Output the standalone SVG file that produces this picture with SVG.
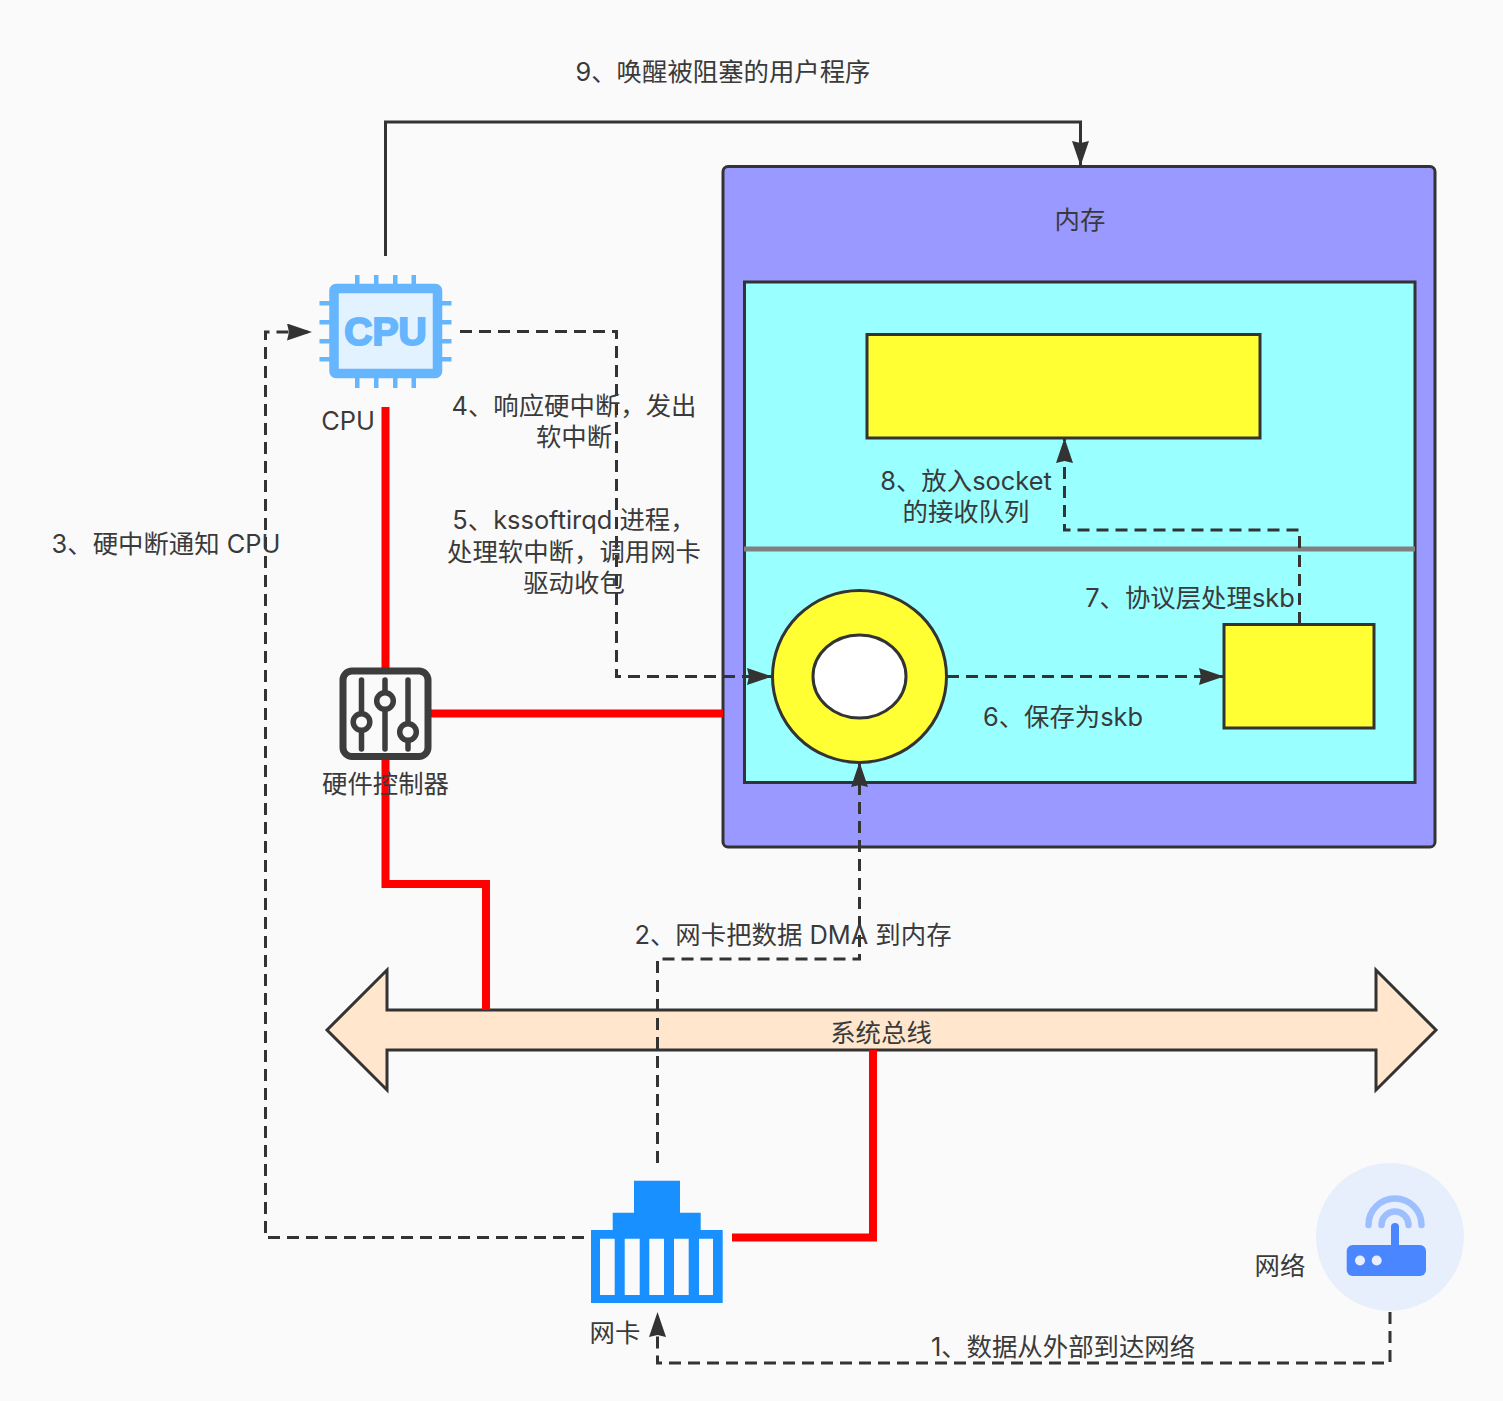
<svg xmlns="http://www.w3.org/2000/svg" width="1503" height="1401" viewBox="0 0 1503 1401">
<style>
text{font-family:"Inter","Noto Sans CJK SC",sans-serif;font-size:25.400px;fill:#3a3a3a;text-anchor:middle}
.box{stroke:#333;stroke-width:3}
.red{fill:none;stroke:#f00;stroke-width:8}
.dash{fill:none;stroke:#333;stroke-width:3;stroke-dasharray:12 7}
.solid{fill:none;stroke:#333;stroke-width:3}
</style>
<defs>
<marker id="arr" markerUnits="userSpaceOnUse" markerWidth="26" markerHeight="17" refX="25" refY="8.500" orient="auto"><path d="M0 0L25 8.500L0 17L2 8.500Z" fill="#333"/></marker>
</defs>
<rect width="1503" height="1401" fill="#fafafa"/>
<g id="memory">
<rect class="box" x="723" y="166.500" width="712" height="680.500" rx="5" fill="#99f"/>
<text x="1080" y="229">内存</text>
</g>
<g id="region">
<rect class="box" x="744.500" y="282" width="670.500" height="500.500" fill="#9ff"/>
<line x1="744" y1="549" x2="1415" y2="549" stroke="#808080" stroke-width="5"/>
</g>
<g id="socket-queue"><rect class="box" x="867" y="334.500" width="393" height="103.500" fill="#ff3"/></g>
<g id="ring-buffer">
<ellipse class="box" cx="859.500" cy="676.500" rx="87" ry="86" fill="#ff3"/>
<ellipse class="box" cx="859.500" cy="676.500" rx="46.500" ry="41.500" fill="#fff"/>
</g>
<g id="skb"><rect class="box" x="1224" y="624.500" width="150" height="103.500" fill="#ff3"/></g>
<g id="bus">
<path class="box" d="M327 1030L387 970V1010H1376V970L1436 1030L1376 1090V1050H387V1090Z" fill="#ffe6cc"/>
<text x="881" y="1042">系统总线</text>
</g>
<g id="connectors">
<path class="red" d="M385.500 407V668"/>
<path class="red" d="M385.500 760V884H486V1010"/>
<path class="red" d="M431 713.500H723"/>
<path class="red" d="M732 1237.500H873V1050"/>
<path class="dash" d="M1390 1312V1363H657.500V1312" marker-end="url(#arr)"/>
<path class="dash" d="M657.500 1163V959H859.500V762" marker-end="url(#arr)"/>
<path class="dash" d="M584 1237.500H265.500V332H312" marker-end="url(#arr)"/>
<path class="dash" d="M460 331.500H616.500V676.500H772" marker-end="url(#arr)"/>
<path class="dash" d="M947 676.500H1224" marker-end="url(#arr)"/>
<path class="dash" d="M1299.500 624V530H1064.500V438" marker-end="url(#arr)"/>
<path class="solid" d="M385.500 256V122H1080.500V166" marker-end="url(#arr)"/>
</g>
<g id="cpu">
<g fill="#66b5ff">
<rect x="355" y="275" width="4.500" height="113"/><rect x="374" y="275" width="4.500" height="113"/><rect x="393" y="275" width="4.500" height="113"/><rect x="411.500" y="275" width="4.500" height="113"/>
<rect x="319.500" y="301" width="132" height="4.500"/><rect x="319.500" y="320" width="132" height="4.500"/><rect x="319.500" y="339" width="132" height="4.500"/><rect x="319.500" y="357" width="132" height="4.500"/>
</g>
<rect x="334" y="288.500" width="103.500" height="85" rx="2" fill="#e3f2ff" stroke="#66b5ff" stroke-width="9.500"/>
<text x="385.500" y="344.500" style="font-family:'Liberation Sans',sans-serif;font-size:39px;font-weight:bold;fill:#66b5ff;stroke:#66b5ff;stroke-width:2">CPU</text>
<text x="348" y="430">CPU</text>
</g>
<g id="controller">
<rect x="343" y="671" width="85" height="85.500" rx="9" fill="#fafafa" stroke="#3d3d3d" stroke-width="7"/>
<g stroke="#3d3d3d" stroke-width="5.500" stroke-linecap="round" fill="#fafafa">
<line x1="361.500" y1="680" x2="361.500" y2="749"/><line x1="385" y1="680" x2="385" y2="749"/><line x1="408" y1="680" x2="408" y2="749"/>
<circle cx="361.500" cy="722" r="8.300"/><circle cx="385" cy="701" r="8.300"/><circle cx="408" cy="732" r="8.300"/>
</g>
<text x="385.500" y="793">硬件控制器</text>
</g>
<g id="nic">
<path fill="#1890ff" fill-rule="evenodd" d="M591 1303V1230H612.700V1212.700H634V1180.700H680V1212.700H700.700V1230H722.700V1303ZM600 1238.700V1295H614.700V1238.700ZM624.700 1238.700V1295H639.700V1238.700ZM649.300 1238.700V1295H664V1238.700ZM674 1238.700V1295H688.700V1238.700ZM699 1238.700V1295H713V1238.700Z"/>
<text x="615" y="1342">网卡</text>
</g>
<g id="network">
<circle cx="1390" cy="1237" r="74" fill="#e8effc"/>
<g fill="none" stroke="#9dbfff" stroke-width="6.500" stroke-linecap="round">
<path d="M1368.500 1225A26.500 26.500 0 0 1 1421.500 1225"/>
<path d="M1381.500 1225A13.500 13.500 0 0 1 1408.500 1225"/>
</g>
<path d="M1395 1227V1246" stroke="#4a86ff" stroke-width="8" stroke-linecap="round"/>
<rect x="1346.700" y="1245" width="79.300" height="31" rx="6" fill="#4a86ff"/>
<circle cx="1360" cy="1260.500" r="5" fill="#e8effc"/><circle cx="1376.700" cy="1260.500" r="5" fill="#e8effc"/>
<text x="1280" y="1275">网络</text>
</g>
<g id="labels">
<text x="723" y="81">9、唤醒被阻塞的用户程序</text>
<text x="574" y="415">4、响应硬中断，发出</text>
<text x="574" y="446">软中断</text>
<text x="574" y="529">5、kssoftirqd 进程，</text>
<text x="574" y="561">处理软中断，调用网卡</text>
<text x="574" y="592">驱动收包</text>
<text x="166" y="553">3、硬中断通知 CPU</text>
<text x="966" y="490">8、放入socket</text>
<text x="966" y="521">的接收队列</text>
<text x="1190" y="607">7、协议层处理skb</text>
<text x="1063" y="726">6、保存为skb</text>
<text x="793" y="944">2、网卡把数据 DMA 到内存</text>
<text x="1063" y="1356">1、数据从外部到达网络</text>
</g>
</svg>
